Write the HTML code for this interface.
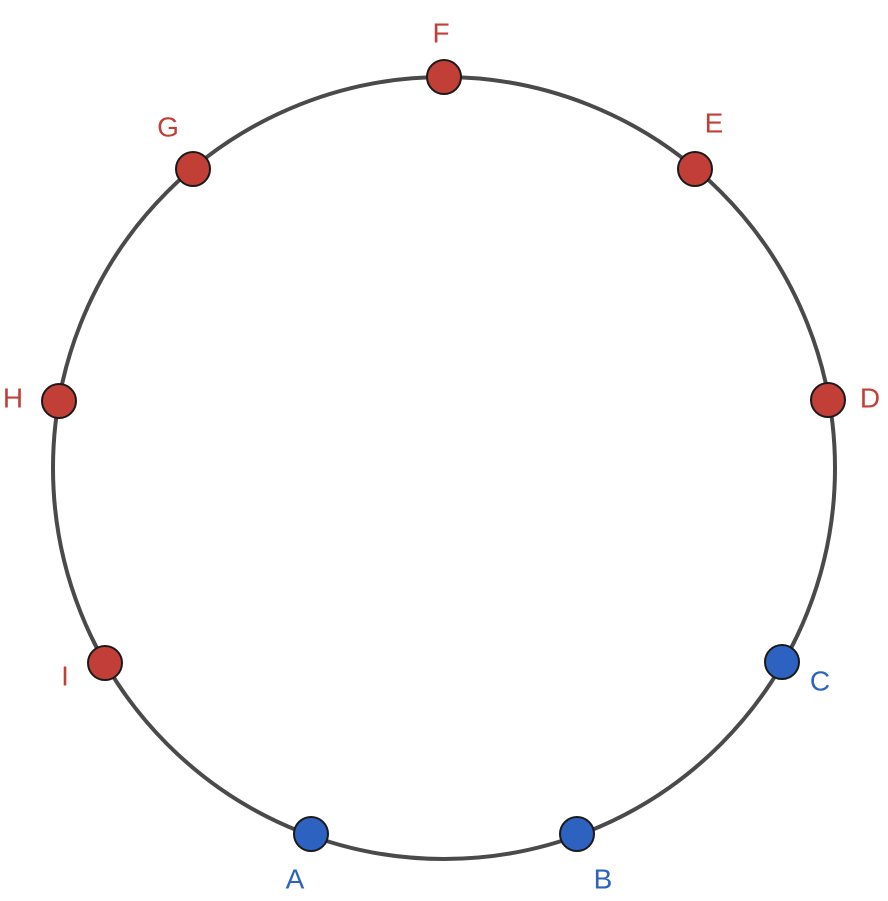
<!DOCTYPE html>
<html><head><meta charset="utf-8"><style>html,body{margin:0;padding:0;background:#fff}</style></head>
<body>
<svg width="888" height="896" viewBox="0 0 888 896" xmlns="http://www.w3.org/2000/svg">
<circle cx="444" cy="468" r="391" fill="none" stroke="#4a4a4a" stroke-width="4"/>
<g stroke="#1a1a1a" stroke-width="2">
<circle cx="444" cy="77" r="17" fill="#c23f38"/>
<circle cx="695" cy="169" r="17" fill="#c23f38"/>
<circle cx="828" cy="400" r="17" fill="#c23f38"/>
<circle cx="782" cy="662" r="17" fill="#2d62c0"/>
<circle cx="577" cy="834" r="17" fill="#2d62c0"/>
<circle cx="311" cy="834" r="17" fill="#2d62c0"/>
<circle cx="105" cy="663" r="17" fill="#c23f38"/>
<circle cx="59" cy="401" r="17" fill="#c23f38"/>
<circle cx="193" cy="169" r="17" fill="#c23f38"/>
</g>
<g font-family="Liberation Sans, sans-serif" font-size="28" text-anchor="middle" dominant-baseline="central">
<text x="441" y="33" fill="#c23f38">F</text>
<text x="714" y="123" fill="#c23f38">E</text>
<text x="870" y="398" fill="#c23f38">D</text>
<text x="820" y="681" fill="#2d62c0">C</text>
<text x="603" y="879" fill="#2d62c0">B</text>
<text x="295" y="879" fill="#2d62c0">A</text>
<text x="65" y="676" fill="#c23f38">I</text>
<text x="13" y="398" fill="#c23f38">H</text>
<text x="168" y="127" fill="#c23f38">G</text>
</g>
</svg>
</body></html>
